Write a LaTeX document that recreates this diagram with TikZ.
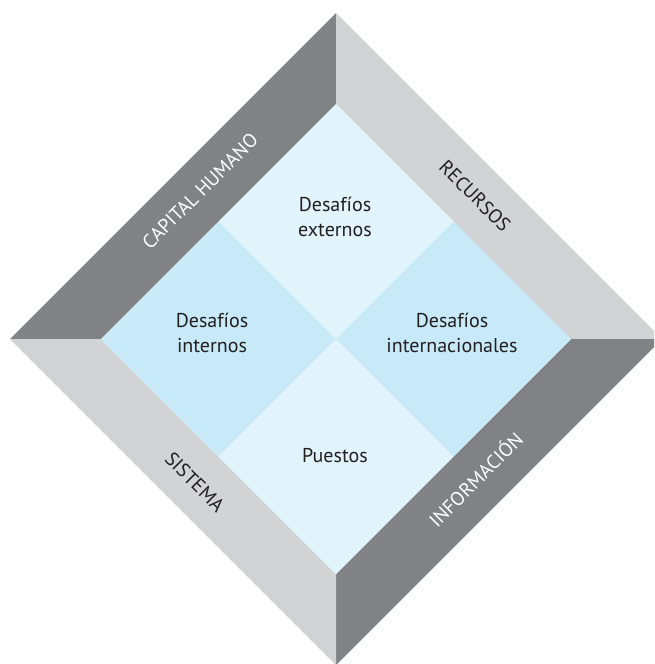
\documentclass[tikz,border=0pt]{standalone}
\usepackage{fontspec}
\setmainfont{PT Sans}
\usetikzlibrary{calc}
\definecolor{darkband}{HTML}{808285}
\definecolor{lightband}{HTML}{D1D3D4}
\definecolor{palepane}{HTML}{E1F3FB}
\definecolor{bluepane}{HTML}{C7E9F8}
\definecolor{inktext}{HTML}{231F20}

\begin{document}
\begin{tikzpicture}[x=1pt,y=-1pt,
	pane/.style={align=center, text=inktext, font=\fontsize{20}{25.6}\selectfont},
	bandlabel/.style={inner sep=0pt, font=\fontsize{19.5}{19.5}\selectfont}]
	\useasboundingbox (0,0) rectangle (654,664);
	\clip (0,0) rectangle (654,664);
	% Corners of the outer frame
	\coordinate (oT) at (336,13);
	\coordinate (oL) at (10,339);
	\coordinate (oR) at (662,339);
	\coordinate (oB) at (336,665);
	% Corners of the inner square
	\coordinate (C) at (336,339);
	\coordinate (iT) at (336,104);
	\coordinate (iL) at (101,339);
	\coordinate (iR) at (571,339);
	\coordinate (iB) at (336,574);
	% Edge midpoints of the inner square
	\coordinate (mTL) at ($(iT)!0.5!(iL)$);
	\coordinate (mTR) at ($(iT)!0.5!(iR)$);
	\coordinate (mBL) at ($(iB)!0.5!(iL)$);
	\coordinate (mBR) at ($(iB)!0.5!(iR)$);
	
	% Draw the frame
	\fill [darkband] (oL) -- (oT) -- (iT) -- (iL) -- cycle;
	\fill [lightband] (oT) -- (oR) -- (iR) -- (iT) -- cycle;
	\fill [darkband] (oR) -- (oB) -- (iB) -- (iR) -- cycle;
	\fill [lightband] (oB) -- (oL) -- (iL) -- (iB) -- cycle;
	% Draw the panes
	\fill [palepane] (iT) -- (mTR) -- (C) -- (mTL) -- cycle;
	\fill [bluepane] (mTL) -- (C) -- (mBL) -- (iL) -- cycle;
	\fill [bluepane] (mTR) -- (iR) -- (mBR) -- (C) -- cycle;
	\fill [palepane] (C) -- (mBR) -- (iB) -- (mBL) -- cycle;
	
	% Pane texts
	\node [pane] (externos) at (335,217) {Desafíos\\externos};
	\node [pane] (internos) at (212,333) {Desafíos\\internos};
	\node [pane] (internacionales) at (452,333) {Desafíos\\internacionales};
	\node [pane] (puestos) at (335,456) {Puestos};
	% Frame labels
	\node [bandlabel, rotate=45, text=white] (capital) at (200,191) {CAPITAL HUMANO};
	\node [bandlabel, rotate=-45, text=inktext] (recursos) at (475,196) {RECURSOS};
	\node [bandlabel, rotate=-45, text=inktext] (sistema) at (195,482) {SISTEMA};
	\node [bandlabel, rotate=45, text=white] (informacion) at (475,479) {INFORMACIÓN};
\end{tikzpicture}
\end{document}
